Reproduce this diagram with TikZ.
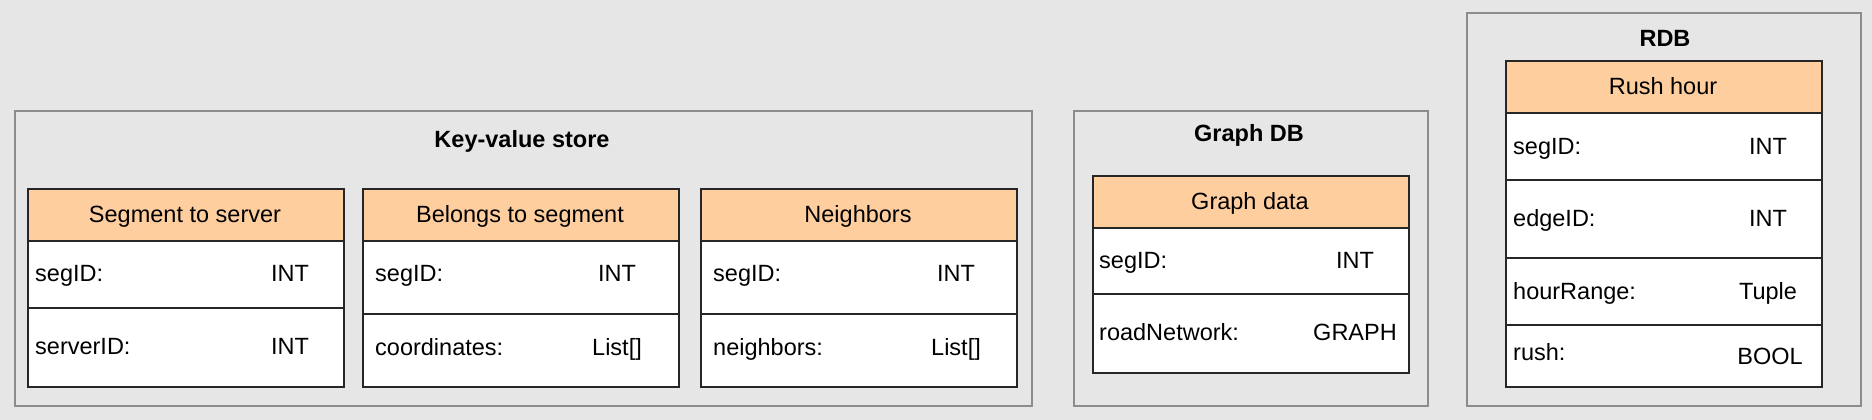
\documentclass[tikz,border=0pt]{standalone}
\usepackage{fontspec}
\setmainfont{Liberation Sans}
\definecolor{bgc}{HTML}{E6E6E6}
\definecolor{panelc}{HTML}{8C8C8C}
\definecolor{hdrc}{HTML}{FFCE9F}
\tikzset{
  panel/.style={draw=panelc, line width=2.4pt},
  hdr/.style={draw=black!85, fill=hdrc, line width=1.6pt, anchor=north west, inner sep=0pt, minimum width=316pt},
  cell/.style={draw=black!85, fill=white, line width=1.6pt, anchor=north west, inner sep=0pt, minimum width=316pt},
  lbl/.style={anchor=west, inner sep=0pt, text height=17pt, text depth=0pt},
  typ/.style={anchor=center, inner sep=0pt, text height=17pt, text depth=0pt},
  ttl/.style={anchor=center, inner sep=0pt, text height=17pt, text depth=0pt, font=\fontsize{23.5}{28}\selectfont\bfseries},
  htx/.style={anchor=center, inner sep=0pt, text height=17pt, text depth=0pt},
}
\begin{document}
\begin{tikzpicture}[x=1pt, y=-1pt, font=\fontsize{23.5}{28}\selectfont]
\useasboundingbox (0,0) rectangle (1872,420);
\fill[bgc] (0,0) rectangle (1872,420);

% panels
\node[panel, anchor=north west, minimum width=1017pt, minimum height=295pt, inner sep=0pt] (kv) at (14,110) {};
\node[panel, anchor=north west, minimum width=354pt, minimum height=295pt, inner sep=0pt] (gdb) at (1073,110) {};
\node[panel, anchor=north west, minimum width=394pt, minimum height=393pt, inner sep=0pt] (rdb) at (1466,12) {};
\node[ttl] (kvt) at (522,139) {Key-value store};
\node[ttl] (gdbt) at (1249,133) {Graph DB};
\node[ttl] (rdbt) at (1665,38) {RDB};

% Table 1: Segment to server
\node[cell, minimum height=67pt] (t1r1) at (27,240) {};
\node[cell, minimum height=79pt] (t1r2) at (27,307) {};
\node[hdr, minimum height=52pt] (t1h) at (27,188) {};
\node[htx] (t1ht) at (185,214) {Segment to server};
\node[lbl] (t1a) at (35,273) {segID:};
\node[typ] (t1at) at (290,273) {INT};
\node[lbl] (t1b) at (35,346) {serverID:};
\node[typ] (t1bt) at (290,346) {INT};

% Table 2: Belongs to segment
\node[cell, minimum height=73pt] (t2r1) at (362,240) {};
\node[cell, minimum height=73pt] (t2r2) at (362,313) {};
\node[hdr, minimum height=52pt] (t2h) at (362,188) {};
\node[htx] (t2ht) at (520,214) {Belongs to segment};
\node[lbl] (t2a) at (375,273) {segID:};
\node[typ] (t2at) at (617,273) {INT};
\node[lbl] (t2b) at (375,347) {coordinates:};
\node[typ] (t2bt) at (617,347) {List[]};

% Table 3: Neighbors
\node[cell, minimum height=73pt] (t3r1) at (700,240) {};
\node[cell, minimum height=73pt] (t3r2) at (700,313) {};
\node[hdr, minimum height=52pt] (t3h) at (700,188) {};
\node[htx] (t3ht) at (858,214) {Neighbors};
\node[lbl] (t3a) at (713,273) {segID:};
\node[typ] (t3at) at (956,273) {INT};
\node[lbl] (t3b) at (713,347) {neighbors:};
\node[typ] (t3bt) at (956,347) {List[]};

% Graph data
\node[cell, minimum height=66pt] (g1) at (1092,227) {};
\node[cell, minimum height=79pt] (g2) at (1092,293) {};
\node[hdr, minimum height=52pt] (gh) at (1092,175) {};
\node[htx] (ght) at (1250,201) {Graph data};
\node[lbl] (ga) at (1099,260) {segID:};
\node[typ] (gat) at (1355,260) {INT};
\node[lbl] (gb) at (1099,332) {roadNetwork:};
\node[typ] (gbt) at (1355,332) {GRAPH};

% Rush hour
\node[cell, minimum height=67pt] (r1) at (1505,112) {};
\node[cell, minimum height=78pt] (r2) at (1505,179) {};
\node[cell, minimum height=67pt] (r3) at (1505,257) {};
\node[cell, minimum height=62pt] (r4) at (1505,324) {};
\node[hdr, minimum height=52pt] (rh) at (1505,60) {};
\node[htx] (rht) at (1663,86) {Rush hour};
\node[lbl] (ra) at (1513,146) {segID:};
\node[typ] (rat) at (1768,146) {INT};
\node[lbl] (rb) at (1513,218) {edgeID:};
\node[typ] (rbt) at (1768,218) {INT};
\node[lbl] (rc) at (1513,291) {hourRange:};
\node[typ] (rct) at (1768,291) {Tuple};
\node[lbl] (rd) at (1513,352) {rush:};
\node[typ] (rdt) at (1770,356) {BOOL};
\end{tikzpicture}
\end{document}
